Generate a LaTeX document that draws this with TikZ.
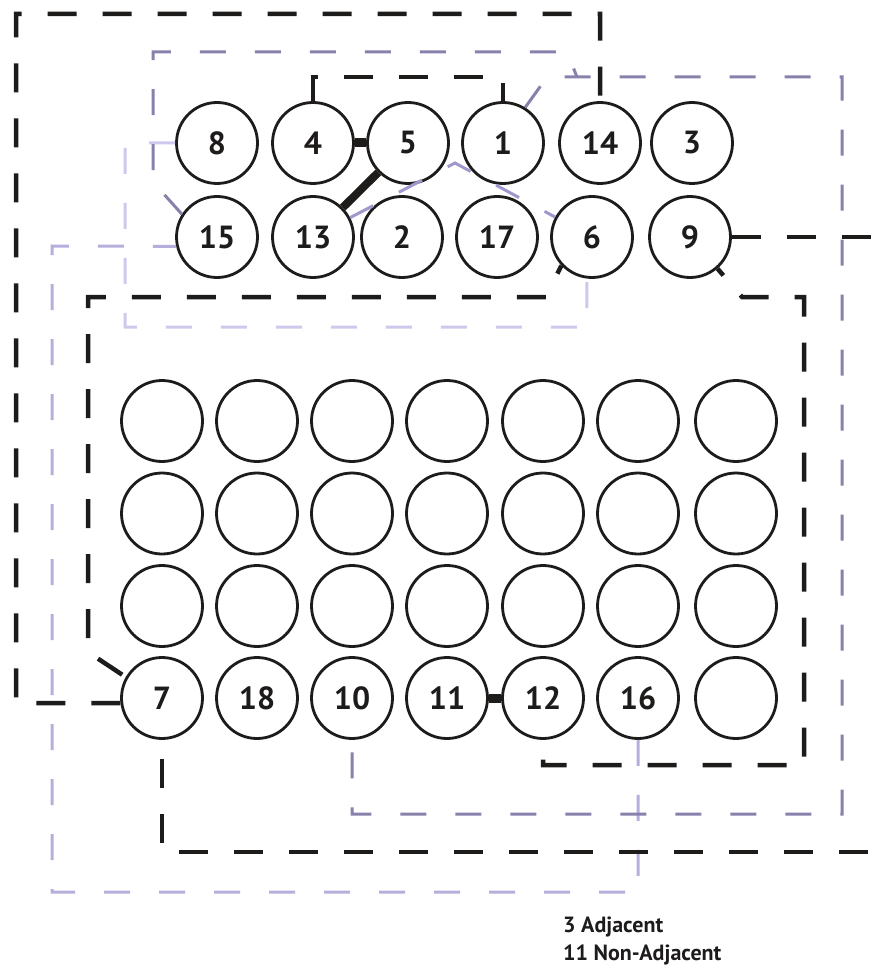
\documentclass[tikz,border=0pt]{standalone}
\usepackage{fontspec}
\setmainfont{PT Sans}
\usetikzlibrary{calc}
\definecolor{ink}{RGB}{30,27,27}
\definecolor{lavA}{RGB}{135,130,172}
\definecolor{lavB}{RGB}{182,174,220}
\definecolor{lavC}{RGB}{208,200,236}
\definecolor{lavD}{RGB}{160,152,205}
\begin{document}
\begin{tikzpicture}[x=1pt,y=-1pt,
  num/.style={circle,draw=ink,line width=2.8pt,minimum size=81pt,inner sep=0pt,fill=white,
    font=\fontsize{32}{32}\selectfont\bfseries,text=ink},
  blackdash/.style={draw=ink,line width=4.5pt,dash pattern=on 29pt off 26pt},
  adj/.style={draw=ink,line width=9pt},
  lavdash/.style={line width=3pt,dash pattern=on 26pt off 29pt},
  legend/.style={anchor=base west,font=\fontsize{22}{26}\selectfont\bfseries,text=ink,inner sep=0pt}]
\useasboundingbox (0,0) rectangle (874,968);
\clip (0,0) rectangle (874,968);
\fill[white] (0,0) rectangle (874,968);

% top grid
\node[num] (n8)  at (217,143) {8};
\node[num] (n4)  at (313,143) {4};
\node[num] (n5)  at (408,143) {5};
\node[num] (n1)  at (503,143) {1};
\node[num] (n14) at (600,143) {14};
\node[num] (n3)  at (692,143) {3};
\node[num] (n15) at (217,237) {15};
\node[num] (n13) at (313,237) {13};
\node[num] (n2)  at (402,237) {2};
\node[num] (n17) at (497,237) {17};
\node[num] (n6)  at (592,237) {6};
\node[num] (n9)  at (690,237) {9};

% bottom grid
\foreach \r/\y in {1/421,2/513.5,3/606}{
  \foreach \c/\x in {1/162,2/257,3/352,4/447,5/543,6/638,7/736}{
    \node[num] (b\r\c) at (\x,\y) {};
  }
}
\node[num] (n7)  at (162,698) {7};
\node[num] (n18) at (257,698) {18};
\node[num] (n10) at (352,698) {10};
\node[num] (n11) at (447,698) {11};
\node[num] (n12) at (543,698) {12};
\node[num] (n16) at (638,698) {16};
\node[num] (b47) at (736,698) {};

% lavender non-adjacent connectors
\draw[lavdash,draw=lavC] (n8.west) -- (125,143) -- (125,327) -- (587,327) -- (n6.263);
\draw[lavdash,draw=lavB] (n16.south) -- (n16.south |- 0,892) -- (52,892) -- (52,246) -- (n15.193);
\draw[lavdash,draw=lavA] (n15.147) -- (153,182) -- (153,52) -- (567,52) -- (577,77);
\draw[lavdash,draw=lavA] (n1.58) -- (547,77) -- (842,77) -- (842,814) -- (n10.south |- 0,814) -- (n10.south);
\draw[lavdash,draw=lavD] (n13) -- (455,163) -- (n6);

% black non-adjacent connectors
\draw[blackdash] (n7.187) -- (16,703) -- (16,14) -- (n14.north |- 0,14) -- (n14.north);
\draw[blackdash] (n4.north) -- (n4.north |- 0,77) -- (n1.north |- 0,77) -- (n1.north);
\draw[blackdash] (n9.east) -- (905,237) -- (905,852) -- (n7.south |- 0,852) -- (n7.south);
\draw[blackdash,dash phase=20pt] (n6.223) -- (546,297) -- (88,297) -- (88,652) -- (n7.150);
\draw[blackdash,dash phase=20pt] (n9.311) -- (742,297) -- (804,297) -- (804,765) -- (n12.south |- 0,765) -- (n12.south);

% adjacent connectors
\draw[adj] (n4) -- (n5);
\draw[adj,line width=8pt] (n5) -- (n13);
\draw[adj] (n11) -- (n12);

% legend
\node[legend] (leg1) at (563,932) {3 Adjacent};
\node[legend] (leg2) at (563,960) {11 Non-Adjacent};
\end{tikzpicture}
\end{document}
